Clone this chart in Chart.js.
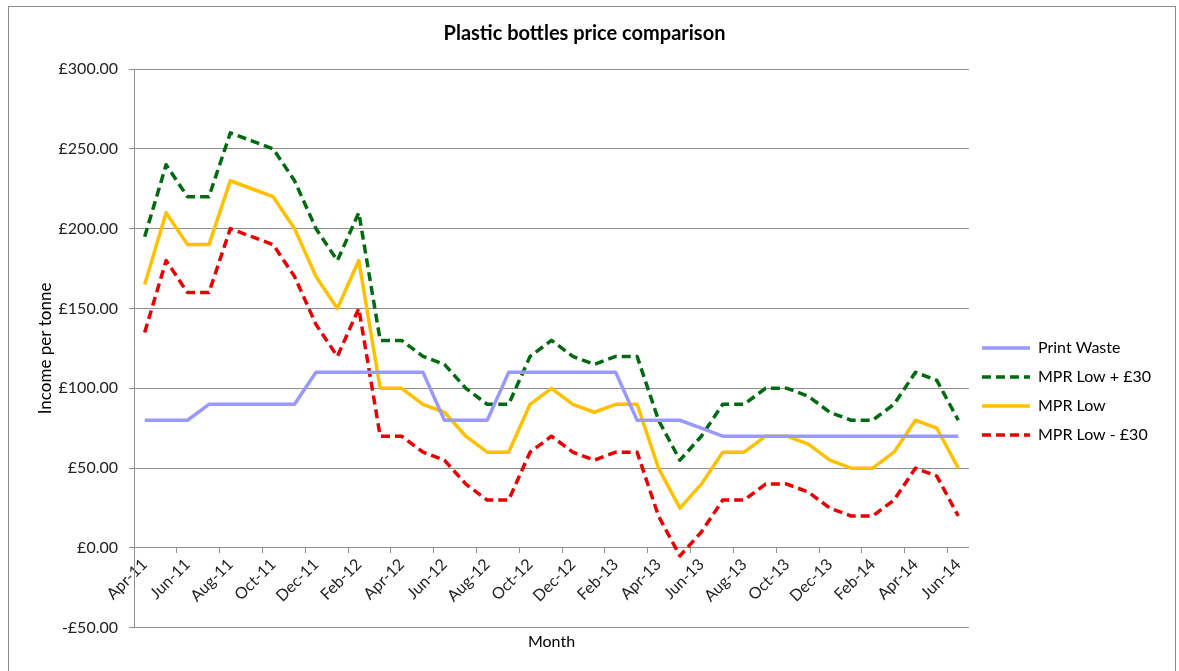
<!DOCTYPE html>
<html>
<head>
<meta charset="utf-8">
<script src="https://cdn.jsdelivr.net/npm/chart.js@4.4.1/dist/chart.umd.min.js"></script>
<style>
  body { margin: 0; background: #fff; }
  #wrap { width: 1179px; height: 671px; position: relative; }
</style>
</head>
<body>
<div id="wrap"><canvas id="pricechart"></canvas></div>
<script>
const months = ['Apr-11','May-11','Jun-11','Jul-11','Aug-11','Sep-11','Oct-11','Nov-11','Dec-11','Jan-12',
  'Feb-12','Mar-12','Apr-12','May-12','Jun-12','Jul-12','Aug-12','Sep-12','Oct-12','Nov-12',
  'Dec-12','Jan-13','Feb-13','Mar-13','Apr-13','May-13','Jun-13','Jul-13','Aug-13','Sep-13',
  'Oct-13','Nov-13','Dec-13','Jan-14','Feb-14','Mar-14','Apr-14','May-14','Jun-14'];

const printWaste = [80,80,80,90,90,90,90,90,110,110,110,110,110,110,80,80,80,110,110,110,
  110,110,110,80,80,80,75,70,70,70,70,70,70,70,70,70,70,70,70];
const mprLowPlus30 = [195,240,220,220,260,255,250,230,200,180,210,130,130,120,115,100,90,90,120,130,
  120,115,120,120,80,55,70,90,90,100,100,95,85,80,80,90,110,105,80];
const mprLow = [165,210,190,190,230,225,220,200,170,150,180,100,100,90,85,70,60,60,90,100,
  90,85,90,90,50,25,40,60,60,70,70,65,55,50,50,60,80,75,50];
const mprLowMinus30 = [135,180,160,160,200,195,190,170,140,120,150,70,70,60,55,40,30,30,60,70,
  60,55,60,60,20,-5,10,30,30,40,40,35,25,20,20,30,50,45,20];

const yTicks = { min: -50, max: 300, step: 50 };

const gridGrey = '#8f8f8f';
const font = 'Lato, "Open Sans", sans-serif';

// outer frame round the whole chart
const framePlugin = {
    id: 'frame',
    beforeDraw(chart) {
        const c = chart.ctx;
        c.save();
        c.fillStyle = '#fff';
        c.fillRect(0, 0, chart.width, chart.height);
        c.strokeStyle = '#8a8a8a';
        c.lineWidth = 1;
        c.strokeRect(8.5, 6.5, 1167, 700);
        c.restore();
    }
};

const ctx = document.getElementById('pricechart').getContext('2d');
new Chart(ctx, {
    type: 'line',
    data: {
        labels: months,
        datasets: [{
                label: 'Print Waste',
                data: printWaste,
                borderColor: '#9999ff',
                borderWidth: 3.5
            },
            {
                label: 'MPR Low + £30',
                data: mprLowPlus30,
                borderColor: '#006a10',
                borderWidth: 3.5,
                borderDash: [9, 5]
            },
            {
                label: 'MPR Low',
                data: mprLow,
                borderColor: '#ffc000',
                borderWidth: 3.5
            },
            {
                label: 'MPR Low - £30',
                data: mprLowMinus30,
                borderColor: '#e80000',
                borderWidth: 3.5,
                borderDash: [9, 5]
            }
        ]
    },
    options: {
        responsive: true,
        maintainAspectRatio: false,
        animation: false,
        layout: { padding: { left: 8, right: 18, top: 0, bottom: 0 } },
        elements: {
            point: { radius: 0 },
            line: { tension: 0, borderJoinStyle: 'round', fill: false }
        },
        plugins: {
            tooltip: { enabled: false },
            title: {
                display: true,
                text: 'Plastic bottles price comparison',
                color: '#000',
                font: { family: font, size: 20, weight: 'bold' },
                padding: { top: 22, bottom: 23 }
            },
            subtitle: {
                display: true,
                position: 'bottom',
                fullSize: false,
                text: 'Month',
                color: '#000',
                font: { family: font, size: 16 },
                padding: { top: 4, bottom: 20 }
            },
            legend: {
                position: 'right',
                fullSize: false,
                title: { display: true, text: '', font: { size: 12 }, padding: { top: 0, bottom: 72 } },
                labels: {
                    usePointStyle: true,
                    pointStyle: 'line',
                    pointStyleWidth: 48,
                    padding: 13,
                    color: '#000',
                    font: { family: font, size: 16 },
                    generateLabels: (chart) => {
                        const items = Chart.defaults.plugins.legend.labels.generateLabels(chart);
                        items.forEach(item => {
                            const ds = chart.data.datasets[item.datasetIndex];
                            item.lineDash = ds.borderDash || [];
                            item.lineWidth = ds.borderWidth;
                            item.strokeStyle = ds.borderColor;
                        });
                        return items;
                    }
                }
            }
        },
        scales: {
            x: {
                position: { y: 0 },
                offset: true,
                grid: {
                    offset: true,
                    drawOnChartArea: false,
                    tickLength: 5,
                    color: (c) => (c.index % 2 === 0 ? gridGrey : 'rgba(0,0,0,0)')
                },
                border: { display: true, color: gridGrey },
                ticks: {
                    autoSkip: false,
                    maxRotation: 45,
                    minRotation: 45,
                    padding: 2,
                    color: '#222',
                    font: { family: font, size: 16 },
                    callback: function (value, index) {
                        return index % 2 === 0 ? this.getLabelForValue(value) : '';
                    }
                }
            },
            y: {
                min: yTicks.min,
                max: yTicks.max,
                afterFit: (scale) => { scale.width = 126; },
                grid: { color: gridGrey, tickLength: 5 },
                border: { color: gridGrey },
                ticks: {
                    stepSize: yTicks.step,
                    padding: 11,
                    color: '#222',
                    font: { family: font, size: 16 },
                    callback: (v) => (v < 0 ? '-£' + Math.abs(v).toFixed(2) : '£' + v.toFixed(2))
                },
                title: {
                    display: true,
                    text: 'Income per tonne',
                    color: '#000',
                    font: { family: font, size: 17 },
                    padding: { top: 27, bottom: 0 }
                }
            }
        }
    },
    plugins: [framePlugin]
});
</script>
</body>
</html>
